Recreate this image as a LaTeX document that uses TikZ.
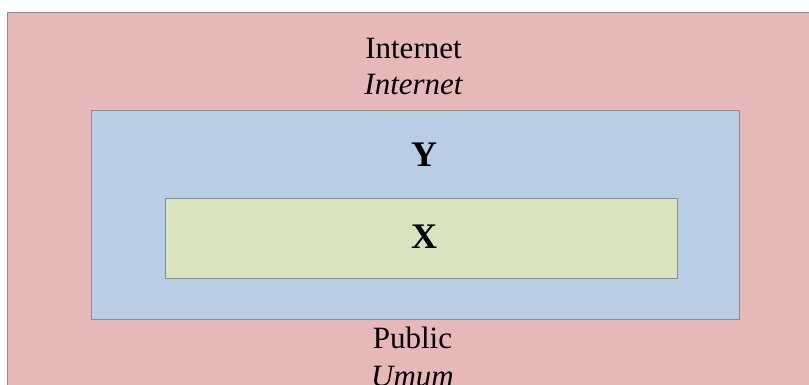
\documentclass[tikz,border=0pt]{standalone}
\usepackage{fontspec}
\setmainfont{Liberation Serif}
\definecolor{pinkc}{HTML}{E6B8B7}
\definecolor{bluec}{HTML}{B9CDE5}
\definecolor{greenc}{HTML}{D7E4BD}
\definecolor{edgec}{HTML}{8C8C8C}
\tikzset{
  zone/.style={draw=edgec, line width=1pt},
  lbl/.style={anchor=base, inner sep=0pt, font=\fontsize{31}{37}\selectfont},
  biglbl/.style={anchor=base, inner sep=0pt, font=\fontsize{36}{42}\selectfont\bfseries},
}
\begin{document}
\begin{tikzpicture}[x=1pt,y=-1pt]
\useasboundingbox (0,0) rectangle (809,385);
\clip (0,0) rectangle (809,385);
\fill[white] (0,0) rectangle (809,385);
\draw[zone, fill=pinkc] (7.5,12.5) rectangle (830,400);
\draw[zone, fill=bluec] (91.5,110.5) rectangle (739,319);
\draw[zone, fill=greenc] (165.5,198.5) rectangle (677,278);
\node[lbl] (inet) at (413.5,59) {Internet};
\node[lbl] (inetit) at (413.5,95) {\itshape Internet};
\node[biglbl] (y) at (424,167) {Y};
\node[biglbl] (x) at (424,248) {X};
\node[lbl] (pub) at (412.5,348) {Public};
\node[lbl] (umum) at (412.5,386) {\itshape Umum};
\end{tikzpicture}
\end{document}
